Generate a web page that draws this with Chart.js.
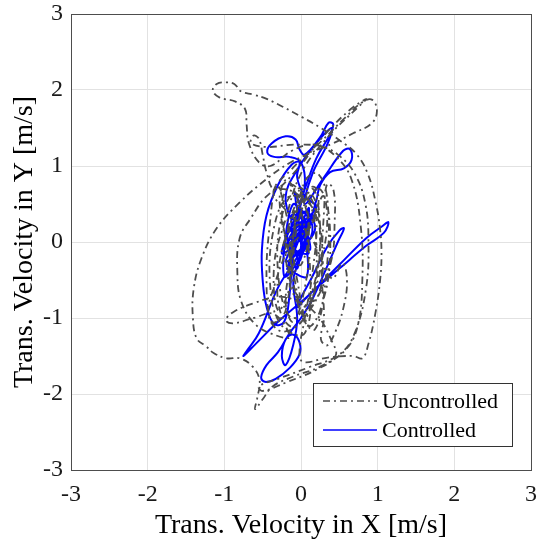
<!DOCTYPE html>
<html>
<head>
<meta charset="utf-8">
<script src="https://cdn.jsdelivr.net/npm/chart.js@4"></script>
<style>
  html, body { margin: 0; padding: 0; background: #fff; }
  canvas { display: block; }
</style>
</head>
<body>
<canvas id="phase" width="541" height="548"></canvas>
<script>
// axis settings
const axisMin = -3;
const axisMax = 3;
const seriesLabels = ['Uncontrolled', 'Controlled'];

// [vx, vy] samples (m/s)
const uncontrolled = [
  [0.05, 0.05], [0.22, 0.45], [0.18, 0.72], [0.0, 0.62], [-0.18, 0.15], [-0.3, -0.45], [-0.26, -0.95], [-0.08, -1.12],
  [0.12, -0.82], [0.28, -0.2], [0.34, 0.38], [0.24, 0.7], [0.06, 0.52], [-0.14, 0.0], [-0.34, -0.55], [-0.42, -0.98],
  [-0.22, -1.18], [0.08, -0.95], [0.38, -0.3], [0.44, 0.3], [0.42, 0.7], [0.34, 0.76], [0.3, 0.4], [0.27, -0.4],
  [0.3, -1.0], [0.26, -1.28], [0.34, -1.36], [0.44, -1.2], [0.55, -0.88], [0.6, -0.5], [0.54, -0.28], [0.4, -0.48],
  [0.12, 0.08], [-0.18, 0.4], [-0.36, 0.66], [-0.12, 0.96], [0.28, 1.34], [0.58, 1.64], [0.8, 1.84], [0.93, 1.87],
  [0.99, 1.72], [0.92, 1.56], [0.68, 1.43], [0.42, 1.3], [0.12, 1.17], [-0.15, 1.04], [-0.46, 0.82], [-0.8, 0.52],
  [-1.1, 0.18], [-1.3, -0.22], [-1.4, -0.62], [-1.41, -1.0], [-1.36, -1.27], [-1.24, -1.37], [-1.14, -1.46], [-0.97, -1.53],
  [-0.8, -1.53], [-0.63, -1.64], [-0.54, -1.82], [-0.57, -2.05], [-0.6, -2.2], [-0.5, -2.07], [-0.37, -1.9], [-0.1, -1.77],
  [0.25, -1.64], [0.58, -1.42], [0.74, -1.1], [0.8, -0.5], [0.78, 0.2], [0.66, 0.82], [0.46, 1.12], [0.18, 1.28],
  [-0.12, 1.2], [-0.4, 1.0], [-0.55, 1.05], [-0.68, 1.3], [-0.71, 1.55], [-0.73, 1.75], [-0.86, 1.85], [-1.06, 1.9],
  [-1.15, 1.99], [-1.1, 2.08], [-0.98, 2.1], [-0.87, 2.08], [-0.78, 1.98], [-0.62, 1.94], [-0.44, 1.88], [-0.24, 1.78],
  [0.02, 1.64], [0.26, 1.5], [0.5, 1.34], [0.72, 1.16], [0.87, 0.9], [0.97, 0.54], [1.03, 0.18], [1.05, -0.16],
  [1.03, -0.52], [0.97, -0.94], [0.88, -1.34], [0.8, -1.53], [0.68, -1.5], [0.35, -1.52], [0.03, -1.58], [-0.02, -1.45],
  [0.05, -1.0], [0.15, -0.4], [0.2, 0.3], [0.1, 0.6], [-0.05, 0.4], [-0.12, -0.2], [-0.2, -0.8], [-0.1, -1.05],
  [0.05, -0.6], [0.1, 0.0], [0.02, 0.55], [-0.25, 0.7], [-0.45, 0.6], [-0.65, 0.32], [-0.8, 0.05], [-0.83, -0.4],
  [-0.78, -0.78], [-0.6, -1.08], [-0.35, -1.22], [-0.15, -1.25], [-0.35, -0.95], [-0.62, -1.0], [-0.88, -1.07], [-0.98, -1.03],
  [-0.88, -0.92], [-0.6, -0.8], [-0.3, -0.72], [-0.05, -0.78], [0.2, -0.95], [0.4, -1.3], [0.45, -1.5], [0.2, -1.68],
  [-0.2, -1.85], [-0.5, -1.96], [-0.55, -1.9], [-0.3, -1.8], [0.1, -1.65], [0.5, -1.48], [0.7, -1.2], [0.85, -0.6],
  [0.88, 0.0], [0.84, 0.5], [0.7, 0.9], [0.48, 1.15], [0.25, 1.26], [-0.1, 1.28], [-0.45, 1.25], [-0.65, 1.3],
  [-0.62, 1.4], [-0.55, 1.36], [-0.5, 1.15], [-0.45, 0.92], [-0.35, 0.7], [-0.1, 0.9], [0.3, 1.4], [0.65, 1.75],
  [0.85, 1.88], [0.75, 1.78], [0.35, 1.38], [0.0, 0.9], [-0.2, 0.3], [-0.35, -0.3], [-0.3, -0.9], [-0.15, -0.6],
  [-0.05, 0.2], [0.15, 0.7], [0.25, 0.2], [0.2, -0.5], [0.05, -1.0], [-0.1, -0.4], [-0.25, 0.5], [-0.1, 0.75],
  [0.1, 0.3], [0.0, -0.3], [-0.15, -0.1], [0.1, 0.2], [0.3, 0.6], [0.38, -0.2], [0.25, -0.9], [0.1, -1.1],
  [-0.05, -0.5], [-0.2, 0.4], [-0.32, 0.75], [-0.4, 0.3], [-0.45, -0.5], [-0.38, -1.05], [-0.2, -0.9], [-0.1, 0.1],
  [0.05, 0.8], [0.22, 0.9], [0.35, 0.5], [0.32, -0.5], [0.18, -1.15], [0.0, -0.95], [-0.15, -0.2], [-0.28, 0.55],
  [-0.18, 0.82], [0.0, 0.4], [0.12, -0.4], [0.05, -1.2], [-0.25, -1.1], [-0.4, -0.6], [-0.35, 0.2], [-0.15, 0.6],
  [0.15, 0.45], [0.28, -0.1], [0.2, -0.75], [-0.05, -0.7], [-0.2, -0.15], [-0.1, 0.35], [0.1, 0.65], [0.24, 0.3],
  [0.16, -0.6], [-0.12, -1.0], [-0.3, -0.4], [-0.22, 0.45], [0.02, 0.7], [0.2, 0.0], [0.1, -0.85], [-0.15, -0.55],
  [-0.08, 0.25]
];

const controlled = [
  [0.0, 0.0], [0.12, 0.25], [-0.08, 0.15], [0.1, -0.15], [-0.12, -0.05], [0.05, 0.4], [0.18, 0.15], [-0.15, -0.3],
  [0.08, -0.45], [-0.02, 0.25], [-0.2, 0.1], [0.2, 0.45], [0.05, 0.6], [-0.05, 0.85], [-0.02, 1.05], [-0.12, 1.02],
  [-0.3, 0.75], [-0.45, 0.35], [-0.51, -0.1], [-0.5, -0.5], [-0.45, -0.85], [-0.35, -1.08], [-0.22, -1.05], [-0.15, -0.7],
  [-0.12, -0.3], [-0.05, 0.3], [0.05, 0.75], [0.0, 1.05], [-0.15, 1.12], [-0.35, 1.12], [-0.44, 1.18], [-0.38, 1.3],
  [-0.2, 1.39], [-0.07, 1.35], [-0.02, 1.22], [0.05, 1.15], [0.25, 1.38], [0.36, 1.57], [0.42, 1.55], [0.38, 1.42],
  [0.2, 1.1], [0.05, 0.7], [-0.1, 0.3], [-0.2, 0.6], [-0.05, 0.95], [0.2, 1.3], [0.4, 1.5], [0.35, 1.3],
  [0.15, 0.9], [0.05, 0.5], [0.3, 0.85], [0.55, 1.2], [0.64, 1.22], [0.66, 1.08], [0.56, 0.97], [0.38, 0.92],
  [0.25, 0.75], [0.2, 0.55], [0.0, -0.1], [-0.3, -0.6], [-0.55, -1.2], [-0.72, -1.45], [-0.75, -1.5], [-0.6, -1.35],
  [-0.3, -1.05], [0.1, -0.7], [0.5, -0.3], [0.85, 0.05], [1.05, 0.2], [1.14, 0.26], [1.08, 0.12], [0.85, -0.05],
  [0.5, -0.35], [0.15, -0.65], [-0.05, -0.85], [0.15, -0.45], [0.35, -0.05], [0.5, 0.15], [0.56, 0.18], [0.48, 0.0],
  [0.35, -0.3], [0.15, -0.75], [0.0, -1.0], [-0.15, -1.2], [-0.3, -1.45], [-0.45, -1.62], [-0.52, -1.78], [-0.47, -1.84],
  [-0.33, -1.8], [-0.15, -1.66], [-0.02, -1.48], [-0.02, -1.32], [-0.1, -1.22], [-0.2, -1.28], [-0.25, -1.5], [-0.2, -1.62],
  [-0.1, -1.35], [-0.05, -1.0], [-0.1, -0.5], [0.0, -0.2], [0.15, 0.2], [-0.05, 0.45], [0.08, 0.05], [-0.1, -0.2],
  [-0.2, -0.25], [0.05, 0.3], [-0.15, 0.05], [0.1, 0.15], [-0.25, -0.15], [0.0, 0.4], [-0.05, -0.35], [-0.18, 0.2],
  [0.12, -0.1], [-0.1, 0.5], [-0.22, -0.45], [0.05, 0.0], [-0.08, 0.65], [0.0, -0.15], [-0.15, -0.05], [0.18, 0.35],
  [-0.05, 0.15], [-0.2, -0.05], [0.08, 0.22], [-0.12, 0.35], [-0.02, -0.25], [0.1, 0.45], [-0.18, -0.35], [0.0, 0.1]
];

const FONT = '"Liberation Serif", "Times New Roman", serif';

const toPoints = arr => arr.map(p => ({ x: p[0], y: p[1] }));

// draws the full axes box and the legend inside the plot (bottom right)
const boxLegend = {
  id: 'boxLegend',
  afterDraw(chart) {
    const { ctx, chartArea: a } = chart;
    ctx.save();
    ctx.strokeStyle = '#4d4d4d';
    ctx.lineWidth = 1;
    ctx.strokeRect(Math.round(a.left) + 0.5, Math.round(a.top) + 0.5,
      Math.round(a.right - a.left), Math.round(a.bottom - a.top));

    const bx = 313.5, by = 383.5, bw = 199, bh = 63;
    ctx.fillStyle = '#fff';
    ctx.fillRect(bx, by, bw, bh);
    ctx.strokeStyle = '#333';
    ctx.strokeRect(bx, by, bw, bh);

    ctx.font = '22px ' + FONT;
    ctx.textBaseline = 'middle';
    chart.data.datasets.forEach((ds, i) => {
      const y = 401 + i * 29;
      ctx.beginPath();
      ctx.setLineDash(ds.borderDash || []);
      ctx.strokeStyle = ds.borderColor;
      ctx.lineWidth = Math.min(ds.borderWidth, 1.5);
      ctx.moveTo(323, y);
      ctx.lineTo(377, y);
      ctx.stroke();
      ctx.setLineDash([]);
      ctx.fillStyle = '#000';
      ctx.fillText(ds.label, 382, y + 1);
    });
    ctx.restore();
  }
};

new Chart(document.getElementById('phase'), {
  type: 'scatter',
  data: {
    datasets: [
      {
        label: seriesLabels[0],
        data: toPoints(uncontrolled),
        showLine: true,
        borderColor: '#4d4d4d',
        borderWidth: 1.8,
        borderDash: [7, 4, 2, 4],
        pointRadius: 0,
        tension: 0.4
      },
      {
        label: seriesLabels[1],
        data: toPoints(controlled),
        showLine: true,
        borderColor: '#0000ff',
        borderWidth: 2,
        pointRadius: 0,
        tension: 0.4
      }
    ]
  },
  options: {
    responsive: false,
    animation: false,
    layout: { padding: { top: 14, right: 10, left: 0, bottom: 0 } },
    plugins: {
      legend: { display: false },
      tooltip: { enabled: false }
    },
    scales: {
      x: {
        type: 'linear',
        min: axisMin,
        max: axisMax,
        ticks: { stepSize: 1, padding: 10, color: '#1a1a1a', font: { family: FONT, size: 24 } },
        grid: { color: '#e2e2e2', drawTicks: false },
        border: { display: false },
        title: {
          display: true,
          text: 'Trans. Velocity in X [m/s]',
          color: '#000',
          font: { family: FONT, size: 28, lineHeight: 1.2 },
          padding: { top: 0, bottom: 6 }
        },
        afterFit: s => { s.height = 78; s.paddingLeft = 0; s.paddingRight = 0; }
      },
      y: {
        type: 'linear',
        min: axisMin,
        max: axisMax,
        ticks: { stepSize: 1, padding: 8, color: '#1a1a1a', font: { family: FONT, size: 24 } },
        grid: { color: '#e2e2e2', drawTicks: false },
        border: { display: false },
        title: {
          display: true,
          text: 'Trans. Velocity in Y [m/s]',
          color: '#000',
          font: { family: FONT, size: 28, lineHeight: 1.2 },
          padding: { top: 8, bottom: 0 }
        },
        afterFit: s => { s.width = 71; s.paddingTop = 0; s.paddingBottom = 0; }
      }
    }
  },
  plugins: [boxLegend]
});
</script>
</body>
</html>
